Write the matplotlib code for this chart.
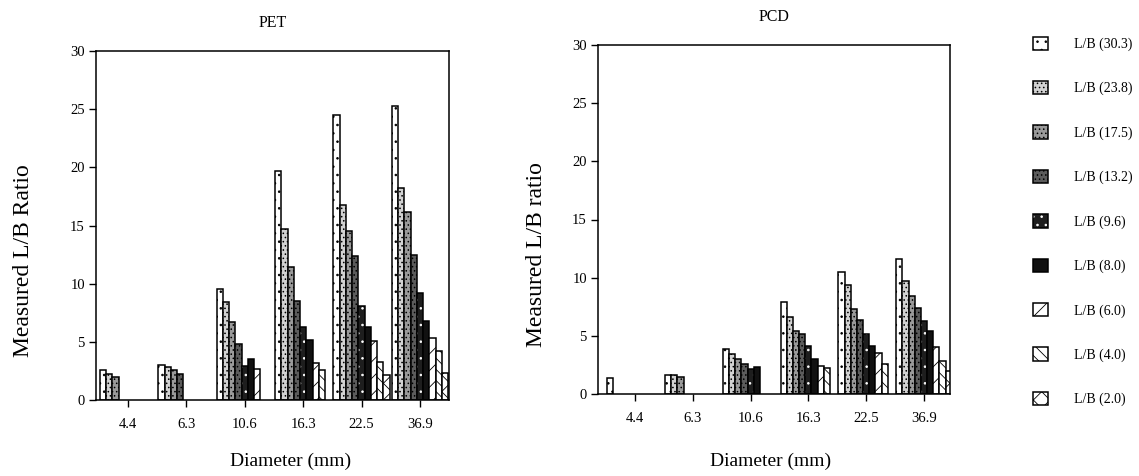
import numpy as np
import matplotlib
matplotlib.use("Agg")
import matplotlib.pyplot as plt
from matplotlib.patches import Patch
from matplotlib.legend_handler import HandlerTuple

plt.rcParams['font.family'] = ['Liberation Serif', 'DejaVu Serif']
plt.rcParams['hatch.linewidth'] = 0.6
plt.rcParams['hatch.color'] = 'white'

categories = ['4.4', '6.3', '10.6', '16.3', '22.5', '36.9']
series = ['L/B (30.3)', 'L/B (23.8)', 'L/B (17.5)', 'L/B (13.2)', 'L/B (9.6)',
          'L/B (8.0)', 'L/B (6.0)', 'L/B (4.0)', 'L/B (2.0)']
nan = np.nan

pet_303 = [2.6, 3.0, 9.5, 19.7, 24.5, 25.3]
pet_238 = [2.25, 2.8, 8.4, 14.7, 16.8, 18.2]
pet_175 = [2.0, 2.6, 6.7, 11.4, 14.5, 16.2]
pet_132 = [nan, 2.2, 4.8, 8.5, 12.4, 12.5]
pet_96 = [nan, nan, 2.95, 6.25, 8.1, 9.2]
pet_80 = [nan, nan, 3.55, 5.15, 6.3, 6.8]
pet_60 = [nan, nan, 2.7, 3.2, 5.05, 5.3]
pet_40 = [nan, nan, nan, 2.55, 3.3, 4.2]
pet_20 = [nan, nan, nan, nan, 2.15, 2.3]

pcd_303 = [1.35, 1.6, 3.9, 7.95, 10.5, 11.6]
pcd_238 = [nan, 1.6, 3.4, 6.6, 9.35, 9.7]
pcd_175 = [nan, 1.5, 3.0, 5.45, 7.3, 8.4]
pcd_132 = [nan, nan, 2.6, 5.15, 6.4, 7.35]
pcd_96 = [nan, nan, 2.15, 4.1, 5.2, 6.3]
pcd_80 = [nan, nan, 2.35, 3.05, 4.15, 5.4]
pcd_60 = [nan, nan, nan, 2.4, 3.55, 4.0]
pcd_40 = [nan, nan, nan, 2.2, 2.6, 2.8]
pcd_20 = [nan, nan, nan, nan, nan, 2.0]

pet = [pet_303, pet_238, pet_175, pet_132, pet_96, pet_80, pet_60, pet_40, pet_20]
pcd = [pcd_303, pcd_238, pcd_175, pcd_132, pcd_96, pcd_80, pcd_60, pcd_40, pcd_20]

# style per series: (facecolor, hatch, hatch colour)
styles = [
    ('white', '..', 'black'),
    ('#d2d2d2', '....', 'black'),
    ('#9a9a9a', '....', 'black'),
    ('#5c5c5c', '....', 'black'),
    ('#1e1e1e', '..', 'white'),
    ('#111111', None, 'black'),
    ('white', '//', 'black'),
    ('white', '\\\\\\', 'black'),
    ('white', 'xx', 'black'),
]

yticks = [0, 5, 10, 15, 20, 25, 30]
W = 0.107
FIG_W, FIG_H = 1139, 476

fig = plt.figure(figsize=(FIG_W / 100, FIG_H / 100), dpi=100)
fig.patch.set_facecolor('white')


def draw(ax, data):
    x = np.arange(len(categories))
    for j, vals in enumerate(data):
        fc, h, hc = styles[j]
        v = np.array(vals, dtype=float)
        pos = x + (j - 4) * W
        m = ~np.isnan(v)
        if hc == 'white':
            ax.bar(pos[m], v[m], W, color=fc, hatch=h, linewidth=0)
        else:
            ax.bar(pos[m], v[m], W, color=fc, hatch=h, edgecolor='black', linewidth=0)
        ax.bar(pos[m], v[m], W, fill=False, edgecolor='black', linewidth=1.1)
    ax.set_ylim(0, 30)
    ax.set_yticks(yticks)
    ax.set_xticks(x)
    ax.set_xticklabels(categories)
    ax.tick_params(axis='both', direction='out', length=5, width=1, labelsize=10.5, pad=3)
    ax.tick_params(axis='x', pad=8)
    for s in ax.spines.values():
        s.set_linewidth(1.1)


axL = fig.add_axes([96 / FIG_W, 1 - 400 / FIG_H, 353 / FIG_W, 349 / FIG_H])
draw(axL, pet)
axL.set_xlim((96 - 128) / 58.4, (449 - 128) / 58.4)
axL.set_title('PET', fontsize=11.5, pad=17)
axL.set_ylabel('Measured L/B Ratio', fontsize=17)
axL.yaxis.set_label_coords(-0.175, 0.40)
axL.set_xlabel('Diameter (mm)', fontsize=14)
axL.xaxis.set_label_coords(0.55, -0.15)

axR = fig.add_axes([598 / FIG_W, 1 - 394 / FIG_H, 352 / FIG_W, 349 / FIG_H])
draw(axR, pcd)
axR.set_xlim((598 - 635) / 57.8, (950 - 635) / 57.8)
axR.set_title('PCD', fontsize=11.5, pad=17)
axR.set_ylabel('Measured L/B ratio', fontsize=17)
axR.yaxis.set_label_coords(-0.145, 0.40)
axR.set_xlabel('Diameter (mm)', fontsize=14)
axR.xaxis.set_label_coords(0.49, -0.167)

handles = []
for j in range(len(series)):
    fc, h, hc = styles[j]
    if hc == 'white':
        p1 = Patch(facecolor=fc, hatch=h, linewidth=0)
    else:
        p1 = Patch(facecolor=fc, hatch=h, edgecolor='black', linewidth=0)
    p2 = Patch(fill=False, edgecolor='black', linewidth=1.1)
    handles.append((p1, p2))

fig.legend(handles, series, loc='upper left', bbox_to_anchor=(1020 / FIG_W, 1 - 24 / FIG_H),
           frameon=False, fontsize=10, handler_map={tuple: HandlerTuple(ndivide=1, pad=0)},
           handlelength=1.1, handleheight=1.1, handletextpad=1.9, labelspacing=2.15)

fig.savefig('out.png', dpi=100, facecolor='white')
